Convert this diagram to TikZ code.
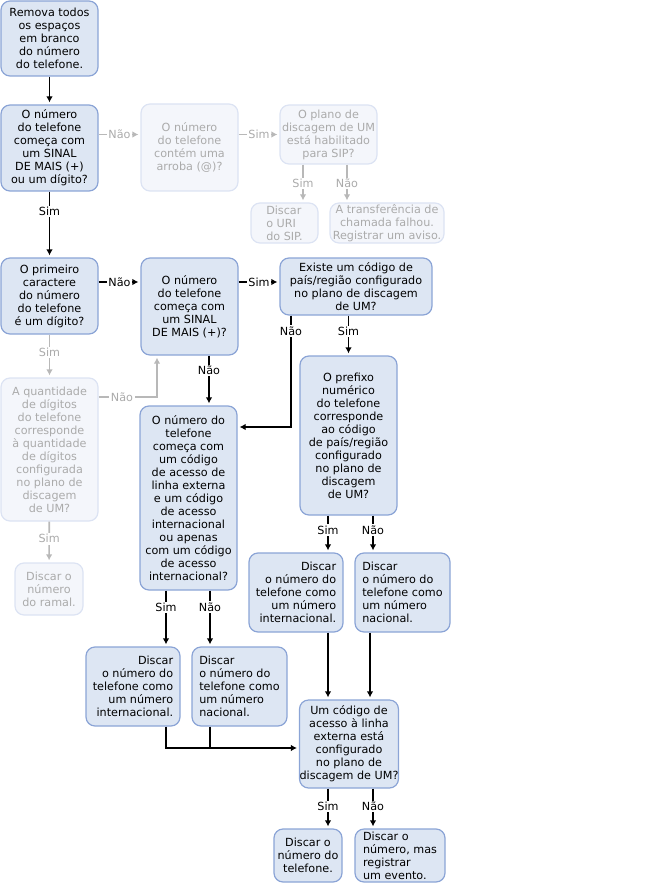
\documentclass[tikz,border=0pt]{standalone}
\usepackage{fontspec}
\setmainfont{DejaVu Sans}
\usetikzlibrary{arrows.meta}

\definecolor{boxfill}{HTML}{DDE6F3}
\definecolor{boxline}{HTML}{8BA4D6}
\definecolor{palefill}{HTML}{F4F6FB}
\definecolor{paleline}{HTML}{DCE3F3}
\definecolor{paletext}{HTML}{ABABAB}

\tikzset{
  box/.style={draw=boxline, fill=boxfill, line width=1.2pt, rounded corners=9pt,
    align=center, inner sep=0pt, font=\fontsize{11.2}{13}\selectfont},
  palebox/.style={box, draw=paleline, fill=palefill, text=paletext},
  flow/.style={-{Latex[length=6pt,width=6.5pt]}, line width=1.6pt, shorten >=2pt},
  paleflow/.style={flow, draw=paletext!85},
  lbl/.style={fill=white, inner sep=1.5pt, font=\fontsize{11.2}{13}\selectfont},
  palelbl/.style={lbl, text=paletext}
}

\begin{document}
\begin{tikzpicture}[x=1pt, y=-1pt]
    \useasboundingbox (0,0) rectangle (647,885);

    % left column
    \node[box, minimum width=97, minimum height=75] (remove) at (49.5,38.5)
        {Remova todos\\os espaços\\em branco\\do número\\do telefone.};
    \node[box, minimum width=97, minimum height=86] (plusdigit) at (49.5,148)
        {O número\\do telefone\\começa com\\um SINAL\\DE MAIS (+)\\ou um dígito?};
    \node[box, minimum width=97, minimum height=76] (firstdigit) at (49.5,296)
        {O primeiro\\caractere\\do número\\do telefone\\é um dígito?};
    \node[palebox, minimum width=97, minimum height=143] (digits) at (49.5,449.5)
        {A quantidade\\de dígitos\\do telefone\\corresponde\\à quantidade\\de dígitos\\configurada\\no plano de\\discagem\\de UM?};
    \node[palebox, minimum width=68, minimum height=52] (extension) at (49,589)
        {Discar o\\número\\do ramal.};

    % SIP branch
    \node[palebox, minimum width=97, minimum height=87] (arroba) at (189.5,147.5)
        {O número\\do telefone\\contém uma\\arroba (@)?};
    \node[palebox, minimum width=97, minimum height=59] (sipplan) at (328.5,134.5)
        {O plano de\\discagem de UM\\está habilitado\\para SIP?};
    \node[palebox, align=left, minimum width=67, minimum height=40] (sipuri) at (284.5,223)
        {Discar\\o URI\\do SIP.};
    \node[palebox, minimum width=114, minimum height=40] (sipfail) at (387,223)
        {A transferência de\\chamada falhou.\\Registrar um aviso.};

    % middle
    \node[box, minimum width=97, minimum height=97] (plussign) at (189.5,306.5)
        {O número\\do telefone\\começa com\\um SINAL\\DE MAIS (+)?};
    \node[box, minimum width=152, minimum height=57] (country) at (356,286.5)
        {Existe um código de\\país/região configurado\\no plano de discagem\\de UM?};
    \node[box, minimum width=97, minimum height=159] (prefix) at (348.5,435.5)
        {O prefixo\\numérico\\do telefone\\corresponde\\ao código\\de país/região\\configurado\\no plano de\\discagem\\de UM?};
    \node[box, minimum width=97, minimum height=184] (access) at (188.5,498)
        {O número do\\telefone\\começa com\\um código\\de acesso de\\linha externa\\e um código\\de acesso\\internacional\\ou apenas\\com um código\\de acesso\\internacional?};

    % dial boxes
    \node[box, align=right, minimum width=94, minimum height=79] (intlA) at (296,592.5)
        {Discar\\o número do\\telefone como\\um número\\internacional.};
    \node[box, align=left, minimum width=95, minimum height=79] (natA) at (402.5,592.5)
        {Discar\\o número do\\telefone como\\um número\\nacional.};
    \node[box, align=right, minimum width=94, minimum height=79] (intlB) at (133,686.5)
        {Discar\\o número do\\telefone como\\um número\\internacional.};
    \node[box, align=left, minimum width=95, minimum height=79] (natB) at (239.5,686.5)
        {Discar\\o número do\\telefone como\\um número\\nacional.};
    \node[box, minimum width=96, minimum height=88] (outside) at (349,744)
        {Um código de\\acesso à linha\\externa está\\configurado\\no plano de\\discagem de UM?};
    \node[box, minimum width=68, minimum height=53] (dial) at (308,855.5)
        {Discar o\\número do\\telefone.};
    \node[box, align=left, minimum width=90, minimum height=53] (dialevent) at (400,855.5)
        {Discar o\\número, mas\\registrar\\um evento.};

    % helper points
    \coordinate (gh) at (0,282);
    \coordinate (nobend) at (291,427);
    \coordinate (mh) at (157,397);
    \coordinate (join) at (0,748);

    % connectors
    \draw[flow] (remove) -- (plusdigit);
    \draw[paleflow] (plusdigit.east |- sipplan) -- node[palelbl]{Não} (arroba.west |- sipplan);
    \draw[paleflow] (arroba.east |- sipplan) -- node[palelbl]{Sim} (sipplan);
    \draw[paleflow] (sipplan.south -| 303,0) -- node[palelbl]{Sim} (sipuri.north -| 303,0);
    \draw[paleflow] (sipplan.south -| 347,0) -- node[palelbl]{Não} (sipfail.north -| 347,0);
    \draw[flow] (plusdigit) -- node[lbl, pos=0.3]{Sim} (firstdigit);
    \draw[flow] (firstdigit.east |- gh) -- node[lbl]{Não} (plussign.west |- gh);
    \draw[flow] (plussign.east |- gh) -- node[lbl]{Sim} (country.west |- gh);
    \draw[flow] (nobend |- country.south) -- node[lbl, pos=0.14]{Não} (nobend) -- (nobend -| access.east);
    \draw[flow] (country.south -| prefix.north) -- node[lbl, pos=0.4]{Sim} (prefix);
    \draw[paleflow] (firstdigit) -- node[palelbl, pos=0.42]{Sim} (digits);
    \draw[paleflow] (digits.east |- mh) -- node[palelbl, pos=0.4]{Não} (mh) -- (mh |- plussign.south);
    \draw[paleflow] (digits) -- node[palelbl, pos=0.42]{Sim} (extension);
    \draw[flow] (plussign.south -| 209,0) -- node[lbl, pos=0.3]{Não} (access.north -| 209,0);
    \draw[flow] (prefix.south -| 328,0) -- node[lbl, pos=0.4]{Sim} (intlA.north -| 328,0);
    \draw[flow] (prefix.south -| 373,0) -- node[lbl, pos=0.4]{Não} (natA.north -| 373,0);
    \draw[flow] (access.south -| 166,0) -- node[lbl, pos=0.3]{Sim} (intlB.north -| 166,0);
    \draw[flow] (access.south -| 210,0) -- node[lbl, pos=0.3]{Não} (natB.north -| 210,0);
    \draw[flow] (intlA.south -| 328,0) -- (outside.north -| 328,0);
    \draw[flow] (natA.south -| 370,0) -- (outside.north -| 370,0);
    \draw[flow] (intlB.south -| 166,0) -- (join -| 166,0) -- (join -| outside.west);
    \draw[line width=1.6pt] (natB.south -| 210,0) -- (join -| 210,0);
    \draw[flow] (outside.south -| 328,0) -- node[lbl, pos=0.45]{Sim} (dial.north -| 328,0);
    \draw[flow] (outside.south -| 373,0) -- node[lbl, pos=0.45]{Não} (dialevent.north -| 373,0);
\end{tikzpicture}
\end{document}
